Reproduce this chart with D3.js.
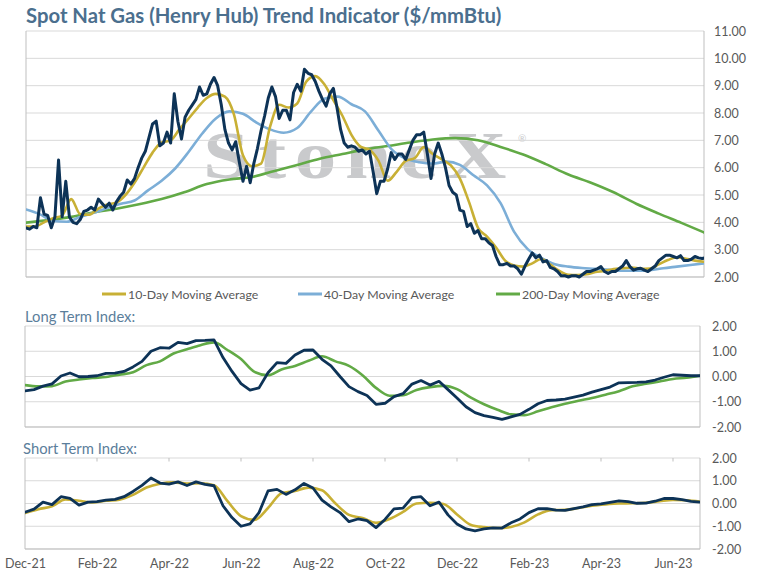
<!DOCTYPE html>
<html><head><meta charset="utf-8">
<script src="https://cdn.jsdelivr.net/npm/d3@7"></script>
<style>
body{margin:0;background:#fff}
svg{display:block}
text{font-family:Lato,"Open Sans",sans-serif}
</style>
</head><body>
<svg id="c" width="757" height="577"></svg>
<script>
// ---- data (x measured in months from Dec-21) ----
const monthLabels = ["Dec-21","Feb-22","Apr-22","Jun-22","Aug-22","Oct-22","Dec-22","Feb-23","Apr-23","Jun-23"];
const labelMonths = [0,2,4,6,8,10,12,14,16,18];
const priceTicks = [2,3,4,5,6,7,8,9,10,11];
const indexTicks = [-2,-1,0,1,2];

const spotStep = 0.1;
const spot = [3.8,3.75,3.85,3.8,4.9,4.3,4.25,3.8,4.2,6.28,
 4.2,5.5,4.2,4.0,3.95,4.1,4.4,4.45,4.55,4.45,
 4.85,4.7,4.55,4.7,4.45,4.75,4.95,5.1,5.55,5.4,
 5.6,6.0,6.35,6.6,7.1,7.6,7.7,6.8,6.9,7.3,
 6.9,8.7,7.7,7.05,7.85,8.1,8.3,8.5,8.95,8.65,
 8.7,9.05,9.3,9.0,8.3,7.4,6.9,6.65,6.95,6.2,
 5.5,6.05,5.45,6.15,6.7,7.35,7.9,8.55,8.95,8.6,
 7.8,8.1,8.1,7.75,8.75,9.05,8.8,9.6,9.45,9.4,
 9.15,8.8,8.5,8.25,8.7,8.9,8.2,7.4,6.9,6.75,
 6.8,6.75,6.6,6.65,6.5,6.6,5.85,5.05,5.5,5.5,
 5.95,6.55,6.3,6.5,6.5,6.3,6.65,7.0,7.2,7.2,
 7.3,6.5,5.6,6.5,6.9,6.5,6.0,5.35,5.1,5.0,
 4.45,4.4,3.85,3.95,3.6,3.7,3.4,3.4,3.25,3.15,
 2.75,2.45,2.45,2.5,2.4,2.4,2.3,2.1,2.4,2.65,
 2.88,2.7,2.8,2.55,2.6,2.35,2.3,2.2,2.05,2.05,
 2.0,2.05,2.05,2.0,2.1,2.2,2.2,2.25,2.3,2.38,
 2.2,2.13,2.2,2.2,2.3,2.4,2.6,2.38,2.25,2.3,
 2.32,2.25,2.2,2.3,2.4,2.6,2.7,2.8,2.8,2.75,
 2.7,2.78,2.6,2.6,2.65,2.75,2.7,2.68,2.7];

const ma10Step = 0.25;
const ma10 = [3.85,3.85,4.0,4.15,4.25,4.85,4.3,4.28,4.5,4.65,
 4.73,5.0,5.45,6.0,6.55,6.92,7.0,7.42,7.8,8.2,
 8.55,8.7,8.6,7.95,6.45,6.05,6.15,7.5,8.3,8.2,
 8.35,9.15,9.35,9.05,8.47,7.9,7.2,6.77,6.65,6.25,
 5.52,5.85,6.25,6.35,6.75,6.5,6.3,6.08,5.6,4.75,
 3.8,3.48,3.08,2.6,2.42,2.38,2.5,2.66,2.45,2.22,
 2.08,2.07,2.1,2.18,2.22,2.29,2.32,2.35,2.3,2.31,
 2.46,2.62,2.72,2.67,2.6,2.56];

const ma40Step = 0.375;
const ma40 = [4.47,4.3,4.05,4.02,4.2,4.35,4.52,4.68,4.8,5.17,
 5.52,5.97,6.58,7.25,7.8,8.06,7.97,7.65,7.4,7.28,
 7.45,8.04,8.52,8.6,8.32,8.06,7.35,6.65,6.33,6.2,
 6.15,6.22,6.1,5.72,5.35,4.7,3.65,3.02,2.7,2.47,
 2.38,2.33,2.3,2.26,2.23,2.23,2.25,2.32,2.38,2.44,
 2.5];

const ma200Step = 0.625;
const ma200 = [3.99,4.08,4.2,4.37,4.5,4.66,4.85,5.1,5.4,5.57,
 5.66,5.88,6.1,6.33,6.5,6.67,6.79,6.92,7.03,7.08,
 7.0,6.76,6.48,6.13,5.75,5.45,5.1,4.68,4.32,3.98,
 3.63];

const ltIndexStep = 0.25;
const ltIndex = [-0.57,-0.52,-0.38,-0.29,0.02,0.14,-0.01,0.0,0.03,0.12,
 0.13,0.2,0.38,0.6,1.0,1.14,1.12,1.35,1.3,1.42,
 1.43,1.45,0.75,0.2,-0.28,-0.54,-0.45,0.15,0.55,0.52,
 0.85,1.04,1.05,0.68,0.42,0.0,-0.4,-0.6,-0.75,-1.1,
 -1.06,-0.8,-0.68,-0.3,-0.16,-0.34,-0.19,-0.52,-0.85,-1.2,
 -1.43,-1.55,-1.62,-1.7,-1.6,-1.5,-1.3,-1.08,-0.95,-0.93,
 -0.9,-0.82,-0.74,-0.62,-0.52,-0.42,-0.25,-0.24,-0.23,-0.21,
 -0.14,-0.03,0.07,0.05,0.03,0.03];

const ltSignalStep = 0.375;
const ltSignal = [-0.34,-0.39,-0.38,-0.2,-0.12,-0.06,-0.02,0.07,0.17,0.45,
 0.6,0.91,1.08,1.24,1.35,1.05,0.69,0.18,0.05,0.28,
 0.42,0.62,0.8,0.6,0.42,0.05,-0.45,-0.76,-0.74,-0.53,
 -0.42,-0.37,-0.5,-0.83,-1.1,-1.32,-1.5,-1.53,-1.38,-1.22,
 -1.08,-0.96,-0.85,-0.72,-0.58,-0.39,-0.29,-0.2,-0.1,-0.05,
 0.03];

const stIndexStep = 0.25;
const stIndex = [-0.38,-0.25,0.06,-0.05,0.3,0.23,-0.07,0.06,0.08,0.15,
 0.18,0.3,0.53,0.8,1.12,0.9,0.85,0.95,0.79,0.95,
 0.84,0.78,-0.1,-0.62,-1.0,-0.9,-0.4,0.55,0.62,0.4,
 0.6,0.88,0.68,0.15,-0.15,-0.4,-0.8,-0.68,-0.75,-1.06,
 -0.7,-0.24,-0.2,0.26,0.3,-0.1,0.06,-0.5,-0.9,-1.12,
 -1.2,-1.12,-1.07,-1.08,-0.85,-0.68,-0.4,-0.23,-0.23,-0.29,
 -0.3,-0.22,-0.15,-0.05,-0.02,0.05,0.12,0.08,0.01,0.02,
 0.1,0.22,0.22,0.17,0.09,0.06];

const stSignalStep = 0.375;
const stSignal = [-0.42,-0.25,-0.12,0.18,0.12,0.05,0.12,0.17,0.38,0.7,
 0.87,0.93,0.88,0.89,0.8,0.1,-0.55,-0.72,-0.2,0.45,
 0.55,0.7,0.58,0.0,-0.5,-0.64,-0.85,-0.68,-0.37,0.0,
 0.03,-0.02,-0.48,-0.93,-1.04,-1.08,-1.03,-0.83,-0.48,-0.29,
 -0.28,-0.2,-0.1,-0.04,0.0,0.01,0.03,0.1,0.16,0.14,
 0.09];

// ---- styling ----
const C = {navy:"#0d3357", gold:"#c8b035", blue:"#7caed7", green:"#62aa46",
  grid:"#d9d9d9", border:"#bfbfbf", text:"#595959", title:"#4b6f8e", sub:"#5b7e9b"};
const fmt = d3.formatLocale({decimal:".",thousands:",",grouping:[3],currency:["$",""],minus:"-"}).format(".2f");
const xMax = 18.75;

const svg = d3.select("#c");
const defs = svg.append("defs");

function panel(cfg){
  const x = d3.scaleLinear().domain([0,xMax]).range([cfg.x0,cfg.x1]);
  const y = d3.scaleLinear().domain(cfg.yDomain).range([cfg.y1,cfg.y0]);
  const g = svg.append("g");
  const bg = g.append("g");
  g.append("g").selectAll("line").data(cfg.ticks).join("line")
    .attr("x1",cfg.x0).attr("x2",cfg.x1)
    .attr("y1",d=>y(d)).attr("y2",d=>y(d))
    .attr("stroke",C.grid).attr("stroke-width",1);
  g.append("path")
    .attr("d",`M${cfg.x0},${cfg.y0}V${cfg.y1}H${cfg.x1}V${cfg.y0}`)
    .attr("fill","none").attr("stroke",C.border).attr("stroke-width",1);
  const ax = d3.axisRight(y).tickValues(cfg.ticks).tickSize(0).tickPadding(cfg.pad).tickFormat(fmt);
  const ag = g.append("g").attr("transform",`translate(${cfg.x1},0)`).call(ax);
  ag.select(".domain").remove();
  ag.selectAll("text").attr("fill",C.text).style("font-size","12.5px").style("font-family","Lato");
  const id = "clip"+cfg.name;
  defs.append("clipPath").attr("id",id).append("rect")
    .attr("x",cfg.x0).attr("y",cfg.y0-6).attr("width",cfg.x1-cfg.x0).attr("height",cfg.y1-cfg.y0+12);
  const lines = g.append("g").attr("clip-path",`url(#${id})`);
  return {x,y,g,bg,lines};
}

function drawSeries(p, data, step, color, width, curve){
  const line = d3.line().x((d,i)=>p.x(i*step)).y(d=>p.y(d)).curve(curve||d3.curveLinear);
  p.lines.append("path").datum(data).attr("d",line)
    .attr("fill","none").attr("stroke",color).attr("stroke-width",width)
    .attr("stroke-linejoin","round").attr("stroke-linecap","round");
}

// title
svg.append("text").attr("x",26).attr("y",23).text("Spot Nat Gas (Henry Hub) Trend Indicator ($/mmBtu)")
  .attr("fill",C.title).style("font-size","20.3px").style("font-weight","bold");

// top panel
const pTop = panel({name:"top",x0:26,x1:704,y0:31,y1:277,yDomain:[2,11],ticks:priceTicks,pad:10});
pTop.bg.append("text").attr("x",203).attr("y",178).text("StoneX")
  .attr("fill","#c9cacc").attr("textLength",312).attr("lengthAdjust","spacingAndGlyphs")
  .style("letter-spacing","7px").style("font-weight","bold")
  .style("font-family","'Liberation Serif',serif").style("font-size","68px");
pTop.bg.append("text").attr("x",518).attr("y",142).text("®").attr("fill","#c9cacc").style("font-size","10px");
drawSeries(pTop, ma200, ma200Step, C.green, 2.6, d3.curveMonotoneX);
drawSeries(pTop, ma40, ma40Step, C.blue, 2.6, d3.curveMonotoneX);
drawSeries(pTop, ma10, ma10Step, C.gold, 2.6, d3.curveMonotoneX);
drawSeries(pTop, spot, spotStep, C.navy, 3);

// legend
const legend = [{t:"10-Day Moving Average",c:C.gold,x:102},{t:"40-Day Moving Average",c:C.blue,x:298},{t:"200-Day Moving Average",c:C.green,x:496}];
const lg = svg.append("g").selectAll("g").data(legend).join("g");
lg.append("line").attr("x1",d=>d.x).attr("x2",d=>d.x+24).attr("y1",294).attr("y2",294)
  .attr("stroke",d=>d.c).attr("stroke-width",3);
lg.append("text").attr("x",d=>d.x+26).attr("y",298.5).text(d=>d.t).attr("fill",C.text).style("font-size","12.3px");

// long term panel
svg.append("text").attr("x",25).attr("y",321.5).text("Long Term Index:").attr("fill",C.sub).style("font-size","14.8px");
const pMid = panel({name:"mid",x0:25,x1:700,y0:326,y1:427,yDomain:[-2,2],ticks:indexTicks,pad:12});
drawSeries(pMid, ltSignal, ltSignalStep, C.green, 2.6, d3.curveMonotoneX);
drawSeries(pMid, ltIndex, ltIndexStep, C.navy, 2.8);

// short term panel
svg.append("text").attr("x",23).attr("y",453.5).text("Short Term Index:").attr("fill",C.sub).style("font-size","14.8px");
const pBot = panel({name:"bot",x0:25,x1:700,y0:458,y1:549,yDomain:[-2,2],ticks:indexTicks,pad:12});
pBot.g.append("g").selectAll("line").data(labelMonths.slice(1)).join("line")
  .attr("x1",d=>pBot.x(d)).attr("x2",d=>pBot.x(d)).attr("y1",458).attr("y2",461.5)
  .attr("stroke",C.border);
drawSeries(pBot, stSignal, stSignalStep, C.gold, 2.6, d3.curveMonotoneX);
drawSeries(pBot, stIndex, stIndexStep, C.navy, 2.8);

// x axis labels
const xa = d3.axisBottom(pBot.x).tickValues(labelMonths).tickSize(0).tickPadding(10.5)
  .tickFormat((d,i)=>monthLabels[i]);
const xg = svg.append("g").attr("transform","translate(0,549)").call(xa);
xg.select(".domain").remove();
xg.selectAll("text").attr("fill",C.text).style("font-size","12.5px").style("font-family","Lato");
</script>
</body></html>
